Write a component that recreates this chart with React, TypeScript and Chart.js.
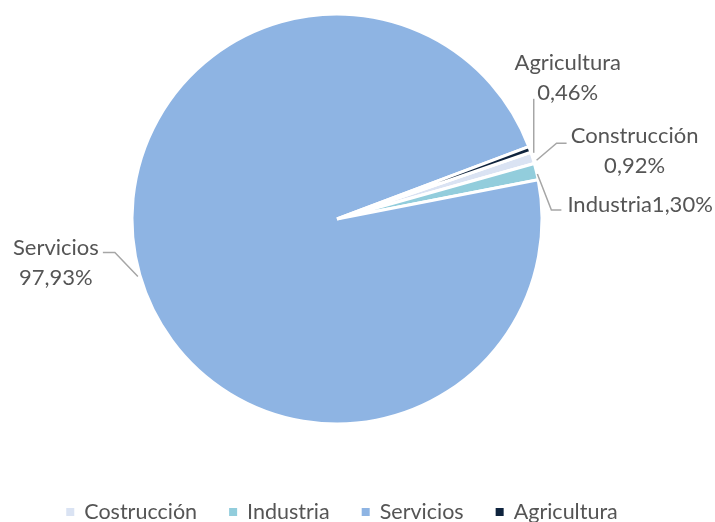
import React, { useEffect, useRef } from "react";
import { Chart, registerables } from "chart.js";

Chart.register(...registerables);

const legendLabels = ["Costrucción", "Industria", "Servicios", "Agricultura"];
const sliceNames = ["Construcción", "Industria", "Servicios", "Agricultura"];
const values = [0.92, 1.3, 97.93, 0.46];
const colors = ["#dae3f3", "#92cddc", "#8eb4e3", "#0f243e"];

const FONT_FAMILY = "Lato, 'Open Sans', sans-serif";
const LABEL_FONT = `22px ${FONT_FAMILY}`;
const LEGEND_FONT = `21.5px ${FONT_FAMILY}`;
const TEXT_COLOR = "#555555";
const LEADER_COLOR = "#a6a6a6";

// leader / text offsets relative to the anchor point on each slice's outer edge
type LabelLayout = {
  leader: [number, number][];
  align: CanvasTextAlign;
  tx: number;
  lines: number[];
  oneLine?: boolean;
};
const labelLayouts: LabelLayout[] = [
  { leader: [[2, 3], [22, -14], [32, -14]], align: "center", tx: 100, lines: [-14, 16] },
  { leader: [[-1, 3], [13, 39], [23, 39]], align: "left", tx: 29, lines: [41], oneLine: true },
  { leader: [[0, 1], [-23, -23], [-35, -23]], align: "center", tx: -82, lines: [-21, 9] },
  { leader: [[2, 4], [2, -50]], align: "center", tx: 36, lines: [-79, -49] },
];

const fmtPct = (v: number) => v.toFixed(2).replace(".", ",") + "%";

const labelPlugin = {
  id: "sliceLabels",
  afterDraw(chart: any) {
    const ctx: CanvasRenderingContext2D = chart.ctx;
    const meta = chart.getDatasetMeta(0);
    let cx = 0;
    ctx.save();
    meta.data.forEach((arc: any, i: number) => {
      const p = arc.getProps(["x", "y", "startAngle", "endAngle", "outerRadius"], true);
      cx = p.x;
      const mid = (p.startAngle + p.endAngle) / 2;
      const ax = p.x + Math.cos(mid) * (p.outerRadius + 2);
      const ay = p.y + Math.sin(mid) * (p.outerRadius + 2);
      const L = labelLayouts[i];
      ctx.strokeStyle = LEADER_COLOR;
      ctx.lineWidth = 1.5;
      ctx.beginPath();
      L.leader.forEach(([dx, dy], k) => {
        if (k === 0) ctx.moveTo(ax + dx, ay + dy);
        else ctx.lineTo(ax + dx, ay + dy);
      });
      ctx.stroke();
      ctx.fillStyle = TEXT_COLOR;
      ctx.font = LABEL_FONT;
      ctx.textAlign = L.align;
      ctx.textBaseline = "alphabetic";
      const texts = L.oneLine ? [sliceNames[i] + fmtPct(values[i])] : [sliceNames[i], fmtPct(values[i])];
      texts.forEach((t, k) => {
        ctx.fillText(t, ax + L.tx, ay + L.lines[k]);
      });
    });

    // legend
    ctx.font = LEGEND_FONT;
    const marker = 8;
    const gapMT = 10;
    const gapItems = 32;
    const widths = legendLabels.map((t) => ctx.measureText(t).width);
    const total = widths.reduce((s, w) => s + marker + gapMT + w, 0) + gapItems * (legendLabels.length - 1);
    let x = cx + 5 - total / 2;
    const baseline = chart.height - 3;
    ctx.textAlign = "left";
    legendLabels.forEach((t, i) => {
      ctx.fillStyle = colors[i];
      ctx.fillRect(x, baseline - 11, marker, marker);
      x += marker + gapMT;
      ctx.fillStyle = TEXT_COLOR;
      ctx.fillText(t, x, baseline);
      x += widths[i] + gapItems;
    });
    ctx.restore();
  },
};

export default function App() {
  const ref = useRef<HTMLCanvasElement>(null);
  useEffect(() => {
    document.body.style.margin = "0";
    const chart = new Chart(ref.current!, {
      type: "pie",
      data: {
        labels: legendLabels,
        datasets: [
          {
            data: values,
            backgroundColor: colors,
            borderColor: "#ffffff",
            borderWidth: 3,
            hoverOffset: 0,
            radius: 205,
          } as any,
        ],
      },
      options: {
        animation: false,
        responsive: true,
        maintainAspectRatio: false,
        events: [],
        rotation: 71,
        layout: { padding: { left: 132, right: 173, top: 14, bottom: 98 } },
        plugins: { legend: { display: false }, tooltip: { enabled: false } },
      },
      plugins: [labelPlugin],
    });
    return () => chart.destroy();
  }, []);
  return (
    <div style={{ width: 715, height: 522, position: "relative" }}>
      <canvas ref={ref} />
    </div>
  );
}
